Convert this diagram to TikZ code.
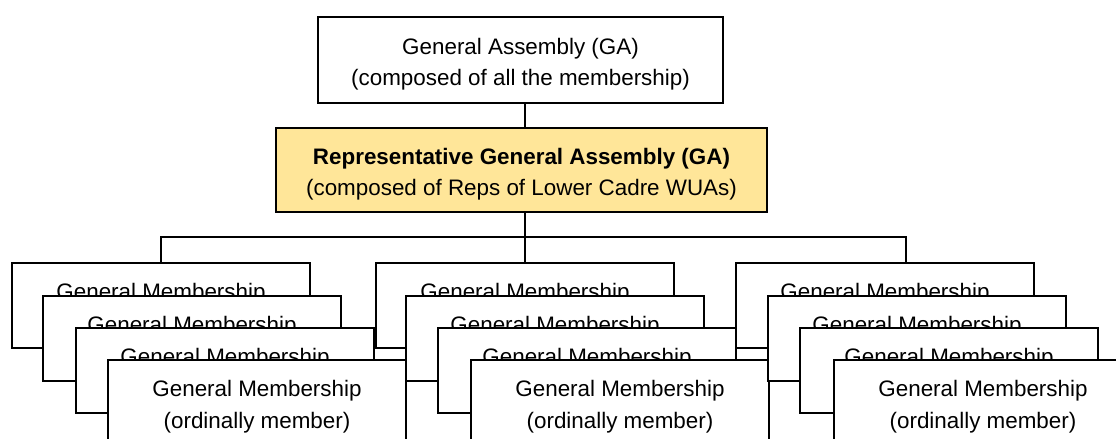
\documentclass[tikz,border=0pt]{standalone}
\usepackage{fontspec}
\setmainfont{Liberation Sans}
\definecolor{gabg}{HTML}{FFE699}

\begin{document}
\begin{tikzpicture}[x=0.5pt,y=-0.5pt,
    box/.style={draw, fill=white, line width=1.1pt, align=center, text height=28pt,
      font=\fontsize{11.2pt}{15.8pt}\selectfont},
    member/.style={box, minimum width=149pt, minimum height=42.5pt},
    link/.style={line width=0.9pt}]
      \useasboundingbox (0,0) rectangle (1116,439);
      \clip (0,0) rectangle (1116,439);
      \node[box, minimum width=202.5pt, minimum height=43pt] at (520.5,60) (ga) {General Assembly (GA)\\(composed of all the membership)};
      \node[box, fill=gabg, minimum width=245.5pt, minimum height=42pt] at (521.5,170) (rga) {\textbf{Representative General Assembly (GA)}\\(composed of Reps of Lower Cadre WUAs)};
      % left stack of membership cards
      \node[member] at (161,305.5) (ma1) {General Membership\\\phantom{(ordinally member)}};
      \node[member] at (192,338.5) (ma2) {General Membership\\\phantom{(ordinally member)}};
      \node[member] at (225,370.5) (ma3) {General Membership\\\phantom{(ordinally member)}};
      \node[member] at (257,402.5) (ma4) {General Membership\\(ordinally member)};
      % middle stack
      \node[member] at (525,305.5) (mb1) {General Membership\\\phantom{(ordinally member)}};
      \node[member] at (555,338.5) (mb2) {General Membership\\\phantom{(ordinally member)}};
      \node[member] at (587,370.5) (mb3) {General Membership\\\phantom{(ordinally member)}};
      \node[member] at (620,402.5) (mb4) {General Membership\\(ordinally member)};
      % right stack
      \node[member] at (885,305.5) (mc1) {General Membership\\\phantom{(ordinally member)}};
      \node[member] at (917,338.5) (mc2) {General Membership\\\phantom{(ordinally member)}};
      \node[member] at (949,370.5) (mc3) {General Membership\\\phantom{(ordinally member)}};
      \node[member] at (983,402.5) (mc4) {General Membership\\(ordinally member)};
      \coordinate (hub) at (525,237);
      \draw[link] (ga.south -| hub) -- (rga.north -| hub);
      \draw[link] (rga.south -| hub) -- (hub);
      \draw[link] (ma1.north) |- (hub);
      \draw[link] (hub) -- (mb1.north);
      \draw[link] (hub) -| ([xshift=10.5pt]mc1.north);
\end{tikzpicture}
\end{document}
